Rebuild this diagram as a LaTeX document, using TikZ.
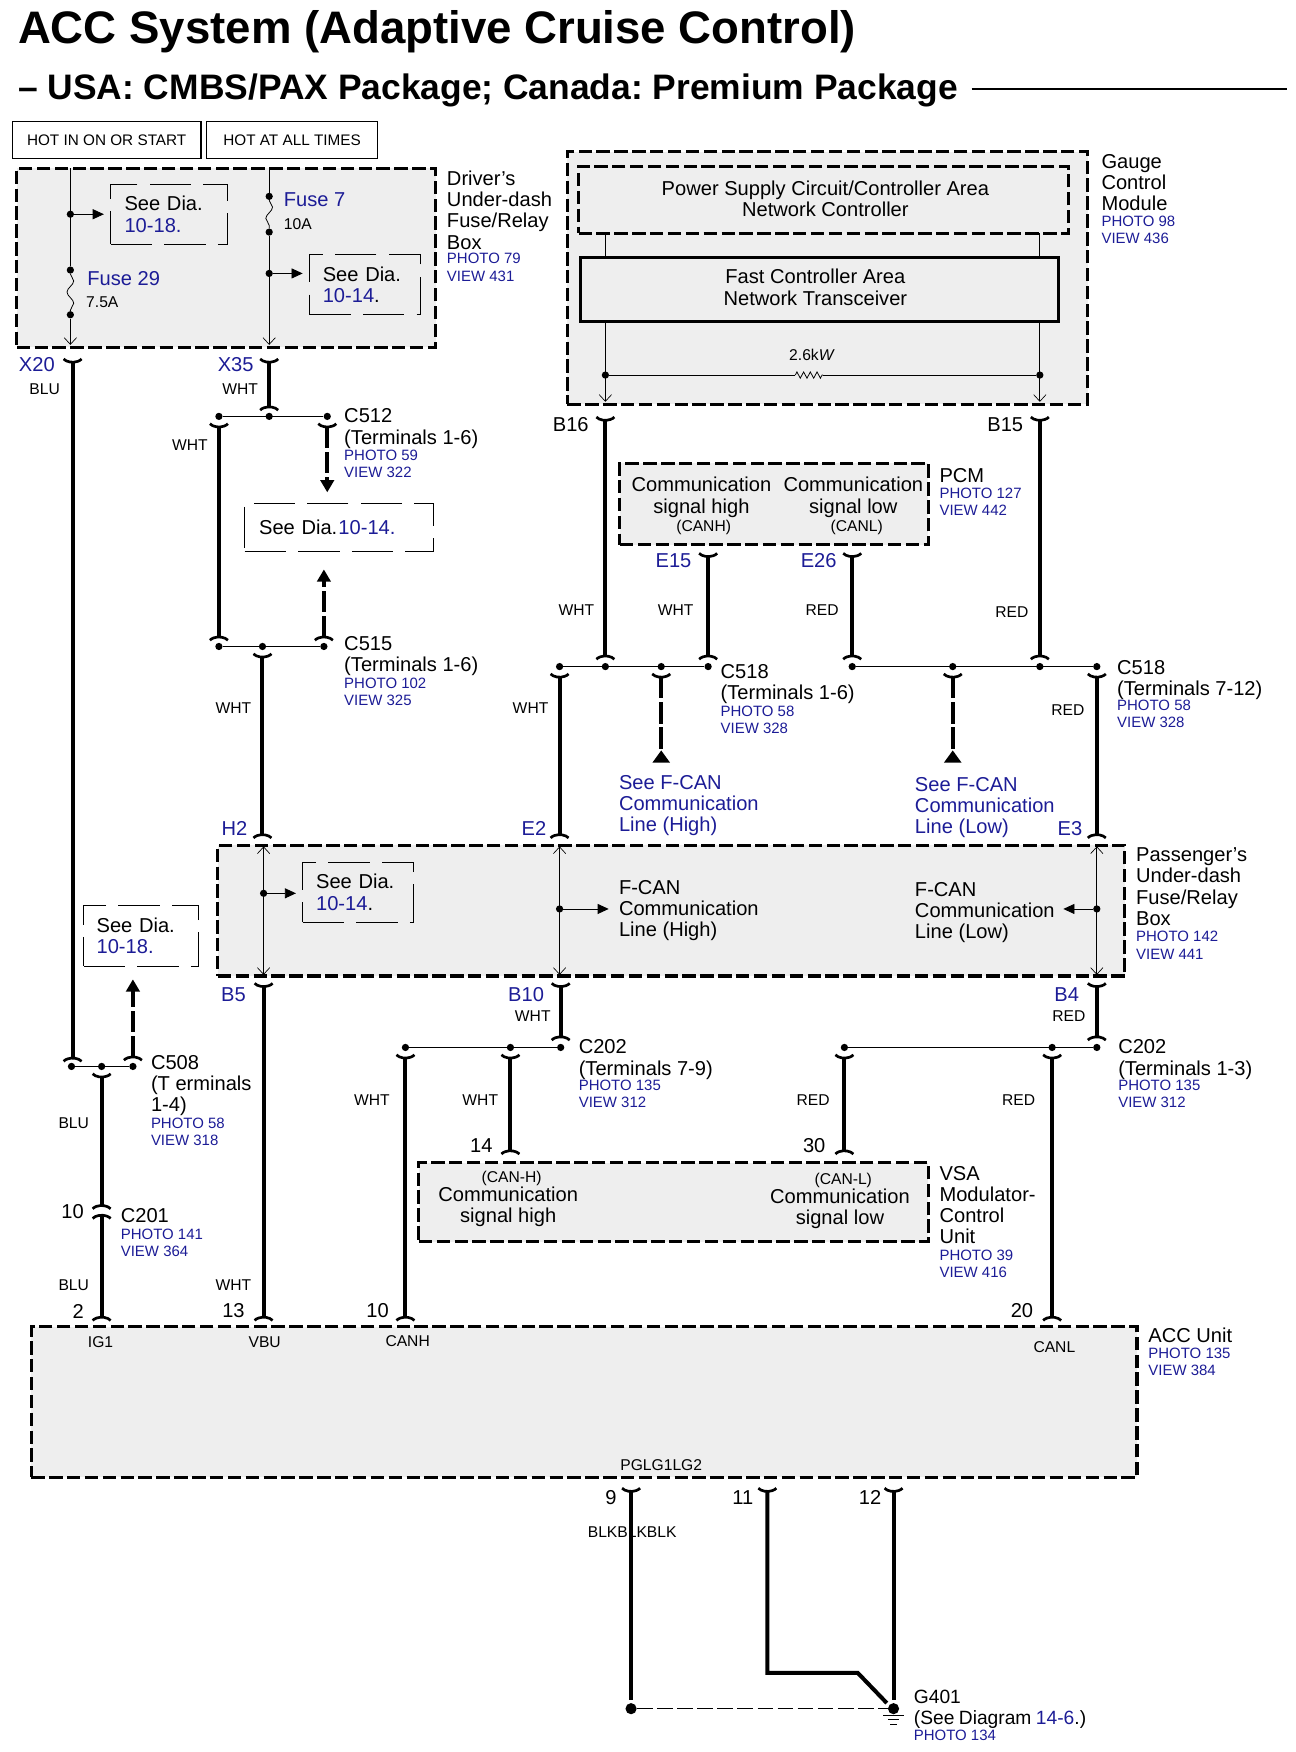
\documentclass[tikz,border=0pt]{standalone}
\usepackage{fontspec}
\setmainfont{Liberation Sans}
\frenchspacing
\usetikzlibrary{arrows.meta,decorations.pathmorphing}
\definecolor{ink}{RGB}{28,28,150}
\definecolor{boxgray}{RGB}{238,238,238}
\tikzset{
  plug/.tip={Arc Barb[reversed,arc=120,length=7pt,width=21pt,line width=2.4pt]},
  plugback/.tip={Arc Barb[arc=120,length=7pt,width=21pt,line width=2.4pt]},
  openend/.tip={Straight Barb[length=6pt,width=11pt,line width=0.6pt]},
  wire/.style={line width=3.6pt},
  stub/.style={line width=3.6pt,dash pattern=on 19pt off 3.5pt},
  thin wire/.style={line width=0.7pt},
  modbox/.style={draw,fill=boxgray,line width=2.8pt,dash pattern=on 12pt off 4pt,inner sep=0pt},
  seebox/.style={draw,line width=0.7pt,dash pattern=on 37pt off 11pt,inner sep=0pt,align=left,font=\fontsize{18}{19}\selectfont},
  hotbox/.style={draw,line width=1.3pt,inner sep=0pt,font=\fontsize{13.7}{16}\selectfont},
  jdot/.style={circle,fill,inner sep=0pt,minimum size=6.5pt},
  lab/.style={font=\fontsize{18}{19}\selectfont,align=left,anchor=north west,inner sep=0pt},
  labc/.style={font=\fontsize{18}{19}\selectfont,align=center,inner sep=0pt},
  ref/.style={font=\fontsize{13.4}{15.3}\selectfont,text=ink,align=left,anchor=north west,inner sep=0pt,yshift=-1pt},
  wcol/.style={font=\fontsize{14}{16}\selectfont,inner sep=0pt},
  pinno/.style={font=\fontsize{18}{19}\selectfont,inner sep=0pt},
  pinname/.style={font=\fontsize{18}{19}\selectfont,text=ink,inner sep=0pt},
  feed/.style={-{Triangle[length=10pt,width=9pt]},line width=0.8pt},
  fuse/.style={thin wire,decorate,decoration={snake,segment length=20pt,amplitude=3pt}}
}
\begin{document}
\begin{tikzpicture}[x=1pt,y=-1pt]
\useasboundingbox (0,-0.8) rectangle (1159.5,1567.8);

\node[inner sep=0pt,anchor=west,font=\fontsize{40.8}{44}\selectfont\bfseries] (title) at (16,27.5) {ACC System (Adaptive Cruise Control)};
\node[inner sep=0pt,anchor=west,font=\fontsize{31.7}{34}\selectfont\bfseries] (subtitle) at (16,80.5) {-- USA: CMBS/PAX Package; Canada: Premium Package};
\coordinate (rule0) at (870,79);
\coordinate (rule1) at (1152,79);
\draw[line width=2pt](rule0) -- (rule1);

\node[hotbox,minimum width=169pt,minimum height=33pt] (hot0) at (95.5,124.5){HOT IN ON OR START};
\node[hotbox,minimum width=153pt,minimum height=33pt] (hot1) at (261.5,124.5){HOT AT ALL TIMES};

\node[modbox,minimum width=375pt,minimum height=160pt] (driver) at (202.5,230){};
\node[modbox,minimum width=466pt,minimum height=226pt] (gauge) at (741,248){};
\node[modbox,minimum width=439pt,minimum height=60pt] (psc) at (737.5,178){};
\node[labc] (psct) at (739,177){Power Supply Circuit/Controller Area\\Network Controller};
\node[modbox,minimum width=812pt,minimum height=117pt] (pass) at (601,814.5){};
\node[modbox,minimum width=276pt,minimum height=73pt] (pcm) at (693,450.5){};
\node[modbox,minimum width=456pt,minimum height=71pt] (vsa) at (603,1075.5){};
\node[modbox,minimum width=990pt,minimum height=135pt] (acc) at (523,1254.5){};

\coordinate (d0) at (63,150);
\coordinate (d1) at (63,308);
\coordinate (d2) at (241,150);
\coordinate (d3) at (241,308);
\node[jdot] (dj0) at (63,191){};
\node[jdot] (f29a) at (63,241){};
\node[jdot] (f29b) at (63,281){};
\node[jdot] (f7a) at (241,175){};
\node[jdot] (f7b) at (241,207){};
\node[jdot] (dj1) at (241,244){};
\draw[thin wire](d0) -- (f29a);
\draw[fuse](f29a) -- (f29b);
\draw[thin wire,-openend](f29b) -- (d1);
\draw[thin wire](d2) -- (f7a);
\draw[fuse](f7a) -- (f7b);
\draw[thin wire,-openend](f7b) -- (d3);
\node[seebox,minimum width=105pt,minimum height=54pt,text width=80pt] (see0) at (151.5,191){See Dia.\\\textcolor{ink}{10-18.}};
\node[seebox,minimum width=99pt,minimum height=54pt,text width=75pt] (see1) at (326.5,254){See Dia.\\\textcolor{ink}{10-14}.};
\coordinate (see0a) at (93,191);
\coordinate (see1a) at (271,244);
\draw[feed](dj0) -- (see0a);
\draw[feed](dj1) -- (see1a);
\node[pinname,anchor=west] (f29) at (78,249){Fuse 29};
\node[wcol,anchor=west] (f29v) at (77,270){7.5A};
\node[pinname,anchor=west] (f7) at (254,178){Fuse 7};
\node[wcol,anchor=west] (f7v) at (254,200){10A};
\node[lab] (driverl) at (400,152){Driver's\\Under-dash\\Fuse/Relay\\Box};
\node[ref] (driverr) at (400,225){PHOTO 79\\VIEW 431};

\coordinate (g0) at (542,208);
\coordinate (g1) at (542,359);
\coordinate (g2) at (931,208);
\coordinate (g3) at (931,359);
\draw[thin wire,-openend](g0) -- (g1);
\draw[thin wire,-openend](g2) -- (g3);
\node[draw,fill=boxgray,line width=2.8pt,minimum width=428pt,minimum height=57pt,inner sep=0pt] (fcan) at (734,258.5){};
\node[labc] (fcant) at (730,256.5){Fast Controller Area\\Network Transceiver};
\node[jdot] (r0) at (542,335){};
\node[jdot] (r1) at (931,335){};
\coordinate (rz0) at (712,335);
\coordinate (rz1) at (737,335);
\draw[thin wire](r0) -- (rz0);
\draw[thin wire,decorate,decoration={zigzag,segment length=6pt,amplitude=2.8pt}](rz0) -- (rz1);
\draw[thin wire](rz1) -- (r1);
\node[wcol] (rv) at (727,317){2.6k\textit{W}};
\node[lab] (gaugel) at (986,137){Gauge\\Control\\Module};
\node[ref] (gauger) at (986,191){PHOTO 98\\VIEW 436};

\node[labc] (pcm0) at (628,444.5){Communication\\signal high};
\node[labc] (pcm1) at (764,444.5){Communication\\signal low};
\node[wcol] (pcm2) at (630,471){(CANH)};
\node[wcol] (pcm3) at (767,471){(CANL)};
\node[lab] (pcml) at (841,418){PCM};
\node[ref] (pcmr) at (841,435){PHOTO 127\\VIEW 442};

\coordinate (x20t) at (65,320);
\coordinate (x20b) at (65,950);
\coordinate (x35t) at (241,320);
\coordinate (x35b) at (241,367);
\draw[wire,plug-plug](x20t) -- (x20b);
\draw[wire,plug-plug](x35t) -- (x35b);
\node[pinname] (x20) at (33,326){X20};
\node[pinname] (x35) at (211,326){X35};
\node[wcol] (w0) at (40,348){BLU};
\node[wcol] (w1) at (215,348){WHT};

\node[jdot] (c512a) at (196,372){};
\node[jdot] (c512b) at (241,372){};
\node[jdot] (c512c) at (293,372){};
\draw[thin wire](c512a) -- (c512c);
\coordinate (c512at) at (196,378);
\coordinate (c515at) at (196,573);
\draw[wire,plug-plug](c512at) -- (c515at);
\node[wcol] (w2) at (170,398){WHT};
\coordinate (c512ct) at (293,378);
\coordinate (c512ce) at (293,440);
\draw[stub,plug-{Triangle[length=11pt,width=12pt]}](c512ct) -- (c512ce);
\node[lab] (c512l) at (308,365){C512\\(Terminals 1-6)};
\node[ref] (c512r) at (308,401){PHOTO 59\\VIEW 322};
\node[seebox,minimum width=169pt,minimum height=43pt,text width=143pt] (see2) at (303.5,471.5){See Dia.\hspace{1pt}\textcolor{ink}{10-14.}};
\coordinate (c515ct) at (290,573);
\coordinate (c515ce) at (290,509);
\draw[stub,plug-{Triangle[length=11pt,width=12pt]}](c515ct) -- (c515ce);

\node[jdot] (c515a) at (196,578){};
\node[jdot] (c515b) at (235,578){};
\node[jdot] (c515c) at (290,578){};
\draw[thin wire](c515a) -- (c515c);
\coordinate (c515bt) at (235,584);
\coordinate (h2t) at (235,750);
\draw[wire,plug-plug](c515bt) -- (h2t);
\node[wcol] (w3) at (209,633){WHT};
\node[lab] (c515l) at (308,569){C515\\(Terminals 1-6)};
\node[ref] (c515r) at (308,605){PHOTO 102\\VIEW 325};
\node[pinname] (h2) at (210,741){H2};

\coordinate (b16t) at (542,372);
\coordinate (b16b) at (542,590);
\coordinate (b15t) at (931,372);
\coordinate (b15b) at (931,590);
\coordinate (e15t) at (634,494);
\coordinate (e15b) at (634,590);
\coordinate (e26t) at (763,494);
\coordinate (e26b) at (763,590);
\draw[wire,plug-plug](b16t) -- (b16b);
\draw[wire,plug-plug](b15t) -- (b15b);
\draw[wire,plug-plug](e15t) -- (e15b);
\draw[wire,plug-plug](e26t) -- (e26b);
\node[pinno] (b16) at (511,379){B16};
\node[pinno] (b15) at (900,379){B15};
\node[pinname] (e15) at (603,501){E15};
\node[pinname] (e26) at (733,501){E26};
\node[wcol] (w4) at (516,545){WHT};
\node[wcol] (w5) at (605,545){WHT};
\node[wcol] (w6) at (736,545){RED};
\node[wcol] (w7) at (906,547){RED};

\node[jdot] (c518a) at (501,596){};
\node[jdot] (c518b) at (542,596){};
\node[jdot] (c518c) at (592,596){};
\node[jdot] (c518d) at (634,596){};
\draw[thin wire](c518a) -- (c518d);
\node[jdot] (c518e) at (763,596){};
\node[jdot] (c518f) at (853,596){};
\node[jdot] (c518g) at (931,596){};
\node[jdot] (c518h) at (982,596){};
\draw[thin wire](c518e) -- (c518h);
\coordinate (c518at) at (501,602);
\coordinate (e2t) at (501,750);
\coordinate (c518ht) at (982,602);
\coordinate (e3t) at (982,750);
\draw[wire,plug-plug](c518at) -- (e2t);
\draw[wire,plug-plug](c518ht) -- (e3t);
\coordinate (c518ct) at (592,602);
\coordinate (c518ce) at (592,682);
\coordinate (c518ft) at (853,602);
\coordinate (c518fe) at (853,682);
\draw[stub,plug-{Triangle[reversed,length=11pt,width=15pt]}](c518ct) -- (c518ce);
\draw[stub,plug-{Triangle[reversed,length=11pt,width=15pt]}](c518ft) -- (c518fe);
\node[wcol] (w8) at (475,633){WHT};
\node[wcol] (w9) at (956,635){RED};
\node[lab] (c518l0) at (645,594){C518\\(Terminals 1-6)};
\node[ref] (c518r0) at (645,630){PHOTO 58\\VIEW 328};
\node[lab] (c518l1) at (1000,590){C518\\(Terminals 7-12)};
\node[ref] (c518r1) at (1000,625){PHOTO 58\\VIEW 328};
\node[lab,text=ink] (fcanh0) at (554,693){See F-CAN\\Communication\\Line (High)};
\node[lab,text=ink] (fcanl0) at (819,695){See F-CAN\\Communication\\Line (Low)};
\node[pinname] (e2) at (478,741){E2};
\node[pinname] (e3) at (958,741){E3};

\coordinate (p0) at (236,757);
\coordinate (p1) at (236,872);
\coordinate (p2) at (501,757);
\coordinate (p3) at (501,872);
\coordinate (p4) at (982,757);
\coordinate (p5) at (982,872);
\draw[thin wire,openend-openend](p0) -- (p1);
\draw[thin wire,openend-openend](p2) -- (p3);
\draw[thin wire,openend-openend](p4) -- (p5);
\node[jdot] (pj0) at (236,799){};
\node[jdot] (pj1) at (501,813){};
\node[jdot] (pj2) at (982,813){};
\coordinate (pa0) at (265,799);
\coordinate (pa1) at (545,813);
\coordinate (pa2) at (952,813);
\draw[feed](pj0) -- (pa0);
\draw[feed](pj1) -- (pa1);
\draw[feed](pj2) -- (pa2);
\node[seebox,minimum width=99pt,minimum height=54pt,text width=75pt] (see3) at (320.5,798){See Dia.\\\textcolor{ink}{10-14}.};
\node[lab] (fh) at (554,787){F-CAN\\Communication\\Line (High)};
\node[lab] (fl) at (819,789){F-CAN\\Communication\\Line (Low)};
\node[lab] (passl) at (1017,758){Passenger's\\Under-dash\\Fuse/Relay\\Box};
\node[ref] (passr) at (1017,832){PHOTO 142\\VIEW 441};
\node[pinname] (b5) at (209,890){B5};
\node[pinname] (b10) at (471,890){B10};
\node[pinname] (b4) at (955,890){B4};

\coordinate (b5t) at (236,879);
\coordinate (vbut) at (236,1182);
\coordinate (b10t) at (502,879);
\coordinate (b10b) at (502,931);
\coordinate (b4t) at (982,879);
\coordinate (b4b) at (982,931);
\draw[wire,plug-plug](b5t) -- (vbut);
\draw[wire,plug-plug](b10t) -- (b10b);
\draw[wire,plug-plug](b4t) -- (b4b);
\node[wcol] (w10) at (477,909){WHT};
\node[wcol] (w11) at (957,909){RED};

\node[jdot] (c202a) at (363,937){};
\node[jdot] (c202b) at (457,937){};
\node[jdot] (c202c) at (502,937){};
\draw[thin wire](c202a) -- (c202c);
\node[jdot] (c202d) at (756,937){};
\node[jdot] (c202e) at (942,937){};
\node[jdot] (c202f) at (982,937){};
\draw[thin wire](c202d) -- (c202f);
\coordinate (c202at) at (363,943);
\coordinate (canht) at (363,1182);
\coordinate (c202bt) at (457,943);
\coordinate (p14t) at (457,1033);
\coordinate (c202dt) at (756,943);
\coordinate (p30t) at (756,1033);
\coordinate (c202et) at (942,943);
\coordinate (canlt) at (942,1182);
\draw[wire,plug-plug](c202at) -- (canht);
\draw[wire,plug-plug](c202bt) -- (p14t);
\draw[wire,plug-plug](c202dt) -- (p30t);
\draw[wire,plug-plug](c202et) -- (canlt);
\node[wcol] (w12) at (333,984){WHT};
\node[wcol] (w13) at (430,984){WHT};
\node[wcol] (w14) at (728,984){RED};
\node[wcol] (w15) at (912,984){RED};
\node[lab] (c202l0) at (518,930){C202\\(Terminals 7-9)};
\node[ref] (c202r0) at (518,965){PHOTO 135\\VIEW 312};
\node[lab] (c202l1) at (1001,930){C202\\(Terminals 1-3)};
\node[ref] (c202r1) at (1001,965){PHOTO 135\\VIEW 312};
\node[pinno] (n14) at (431,1025){14};
\node[pinno] (n30) at (729,1025){30};

\node[wcol] (vsa0) at (458,1054){(CAN-H)};
\node[labc] (vsa1) at (455,1079.5){Communication\\signal high};
\node[wcol] (vsa2) at (755,1056){(CAN-L)};
\node[labc] (vsa3) at (752,1081.5){Communication\\signal low};
\node[lab] (vsal) at (841,1043){VSA\\Modulator-\\Control\\Unit};
\node[ref] (vsar) at (841,1117){PHOTO 39\\VIEW 416};

\node[seebox,minimum width=103pt,minimum height=54pt,text width=80pt] (see4) at (126.5,837){See Dia.\\\textcolor{ink}{10-18.}};
\node[jdot] (c508a) at (64,954){};
\node[jdot] (c508b) at (91,954){};
\node[jdot] (c508c) at (119,954){};
\draw[thin wire](c508a) -- (c508c);
\coordinate (c508ct) at (119,949);
\coordinate (c508ce) at (119,876);
\draw[stub,plug-{Triangle[length=11pt,width=12pt]}](c508ct) -- (c508ce);
\coordinate (c508bt) at (91,960);
\coordinate (c201t) at (91,1082);
\coordinate (c201b) at (91,1086);
\coordinate (ig1t) at (91,1182);
\draw[wire,plug-plug](c508bt) -- (c201t);
\draw[wire,plugback-plug](c201b) -- (ig1t);
\node[lab] (c508l) at (135,944){C508\\(T erminals\\1-4)};
\node[ref] (c508r) at (135,999){PHOTO 58\\VIEW 318};
\node[lab] (c201l) at (108,1081){C201};
\node[ref] (c201r) at (108,1098){PHOTO 141\\VIEW 364};
\node[wcol] (w16) at (66,1005){BLU};
\node[wcol] (w17) at (66,1150){BLU};
\node[wcol] (w18) at (209,1150){WHT};
\node[pinno] (n10a) at (65,1084){10};
\node[pinno] (n2) at (70,1173){2};
\node[pinno] (n13) at (209,1173){13};
\node[pinno] (n10b) at (338,1173){10};
\node[pinno] (n20) at (915,1173){20};

\node[wcol] (ig1) at (90,1201){IG1};
\node[wcol] (vbu) at (237,1201){VBU};
\node[wcol] (canh) at (365,1200){CANH};
\node[wcol] (canl) at (944,1205){CANL};
\node[wcol] (pgl) at (592,1311){PGLG1LG2};
\node[lab] (accl) at (1028,1188){ACC Unit};
\node[ref] (accr) at (1028,1205){PHOTO 135\\VIEW 384};

\coordinate (g9t) at (565,1331);
\coordinate (g9b) at (565,1521);
\coordinate (g11t) at (687,1331);
\coordinate (g11a) at (687,1497);
\coordinate (g11b) at (768,1497);
\coordinate (g11c) at (794,1524);
\coordinate (g12t) at (800,1331);
\coordinate (g12b) at (800,1521);
\draw[wire,plug-](g9t) -- (g9b);
\draw[wire,plug-,line join=miter](g11t) -- (g11a) -- (g11b) -- (g11c);
\draw[wire,plug-](g12t) -- (g12b);
\node[jdot,minimum size=10pt] (g401a) at (565,1529){};
\node[jdot,minimum size=10pt] (g401b) at (800,1529){};
\draw[thin wire,dash pattern=on 14pt off 4pt](g401a) -- (g401b);
\coordinate (gnd0) at (791,1535);
\coordinate (gnd1) at (809,1535);
\coordinate (gnd2) at (795,1539);
\coordinate (gnd3) at (805,1539);
\coordinate (gnd4) at (797,1543);
\coordinate (gnd5) at (803,1543);
\draw[thin wire](gnd0) -- (gnd1);
\draw[thin wire](gnd2) -- (gnd3);
\draw[thin wire](gnd4) -- (gnd5);
\node[pinno] (n9) at (547,1340){9};
\node[pinno] (n11) at (665,1340){11};
\node[pinno] (n12) at (779,1340){12};
\node[wcol] (w19) at (566,1371){BLKBLKBLK};
\node[lab,font=\fontsize{17.2}{19}\selectfont] (g401l) at (818,1512){G401\\(See\hspace{4pt}Diagram\hspace{4pt}\textcolor{ink}{14-6}.)};
\node[ref] (g401r) at (818,1547){PHOTO 134};
\end{tikzpicture}
\end{document}
